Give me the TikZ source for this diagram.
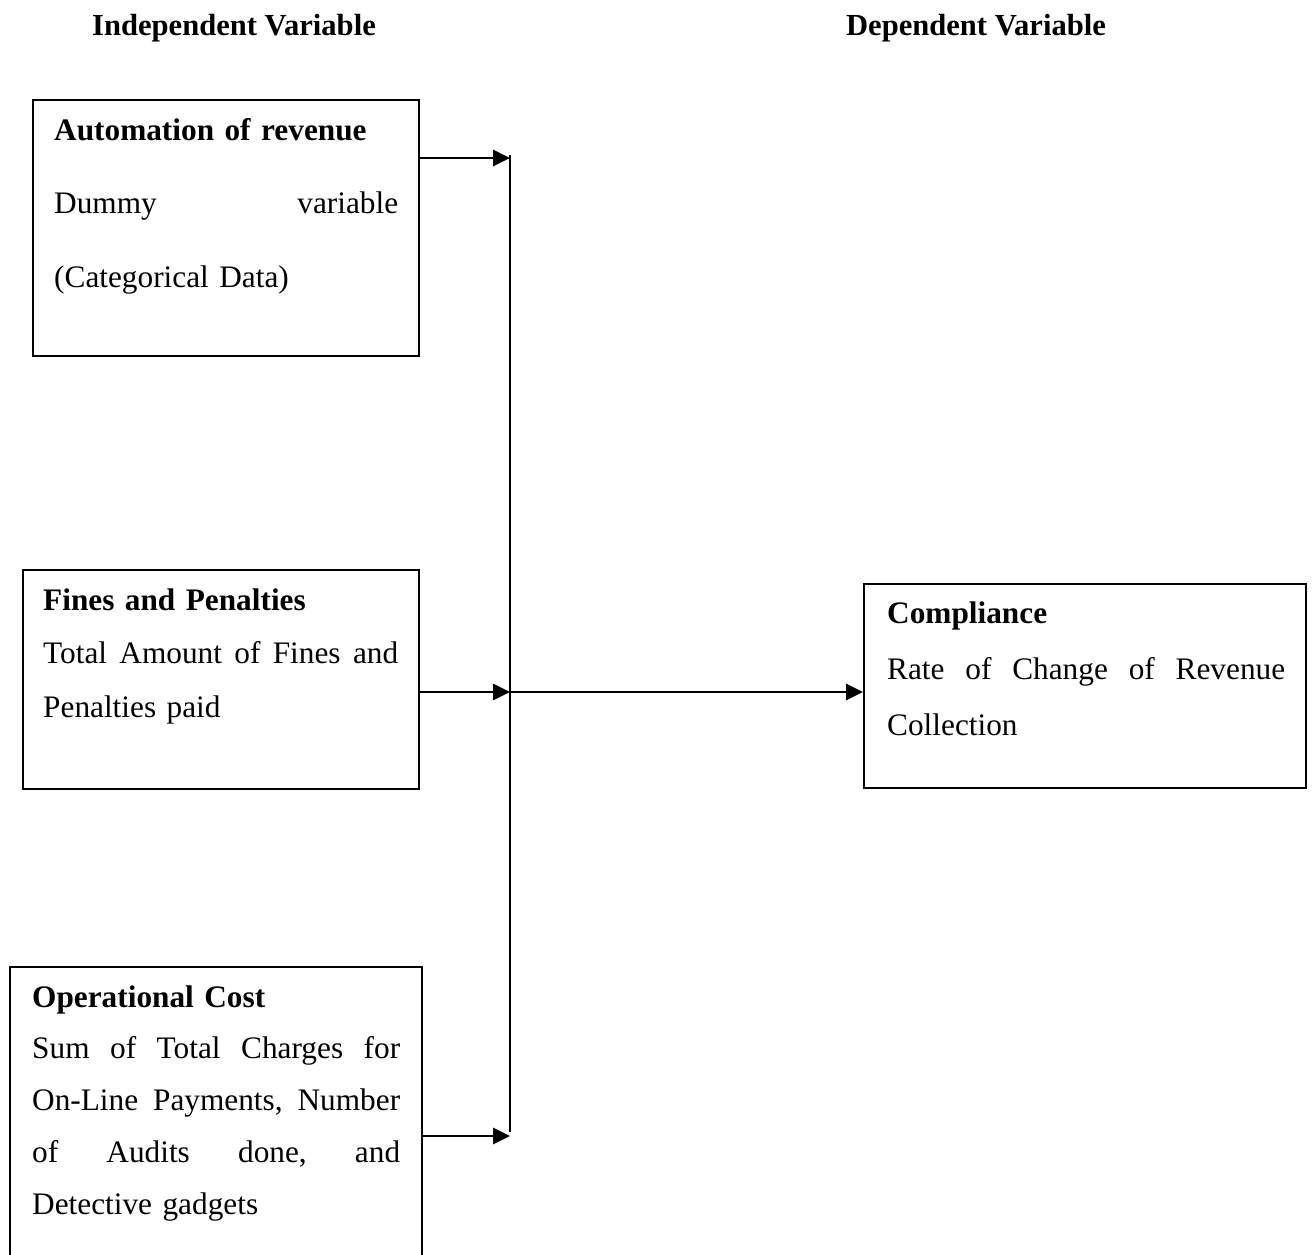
\documentclass[tikz,border=0pt]{standalone}
\usepackage{fontspec}
\setmainfont{Liberation Serif}
\usetikzlibrary{arrows.meta}
\newcommand{\jline}[2]{\leavevmode\hbox to #1{#2}}
\begin{document}
\begin{tikzpicture}[x=1pt,y=-1pt,
  box/.style={draw,line width=2pt,rectangle,inner sep=0pt},
  txt/.style={inner sep=0pt,align=left,anchor=base west},
  head/.style={inner sep=0pt,anchor=base,font=\fontsize{30.6}{38}\selectfont\bfseries},
  conn/.style={line width=2.5pt},
  arr/.style={line width=2.8pt,-{Triangle[length=17pt,width=16pt]}}
]
\useasboundingbox (0,0) rectangle (1315,1254);
% headers
\node[head] (hi) at (234,35) {Independent Variable};
\node[head] (hd) at (976,35) {Dependent Variable};
% boxes
\node[box,minimum width=386pt,minimum height=256pt] (b1) at (226,228) {};
\node[box,minimum width=396pt,minimum height=219pt] (b2) at (221,679.5) {};
\node[box,minimum width=412pt,minimum height=293pt] (b3) at (216,1113.5) {};
\node[box,minimum width=442pt,minimum height=204pt] (b4) at (1085,686) {};
% texts
\node[txt,text width=344pt,font=\fontsize{31.3}{73.5}\selectfont] (t1) at (54,140)
  {\textbf{Automation of revenue}\\
   \jline{344pt}{Dummy\hfill variable}\\
   (Categorical Data)};
\node[txt,text width=355pt,font=\fontsize{31.3}{53.5}\selectfont] (t2) at (43,610)
  {\textbf{Fines and Penalties}\\
   \jline{355pt}{Total\hfill Amount\hfill of\hfill Fines\hfill and}\\
   Penalties paid};
\node[txt,text width=368pt,font=\fontsize{31.3}{51.8}\selectfont] (t3) at (32,1007)
  {\textbf{Operational Cost}\\
   \jline{368pt}{Sum\hfill of\hfill Total\hfill Charges\hfill for}\\
   \jline{368pt}{On-Line\hfill Payments,\hfill Number}\\
   \jline{368pt}{of\hfill Audits\hfill done,\hfill and}\\
   Detective gadgets};
\node[txt,text width=398pt,font=\fontsize{31.3}{56}\selectfont] (t4) at (887,623)
  {\textbf{Compliance}\\
   \jline{398pt}{Rate\hfill of\hfill Change\hfill of\hfill Revenue}\\
   Collection};
% connectors
\coordinate (vt) at (510,155);
\coordinate (vb) at (510,1132);
\coordinate (j1) at (510,158);
\coordinate (j2) at (510,692);
\coordinate (j3) at (510,1136);
\draw[conn] (vt) -- (vb);
\draw[arr] (b1.east |- j1) -- (j1);
\draw[arr] (b2.east |- j2) -- (j2);
\draw[arr] (b3.east |- j3) -- (j3);
\draw[arr] (j2) -- (j2 -| b4.west);
\end{tikzpicture}
\end{document}
